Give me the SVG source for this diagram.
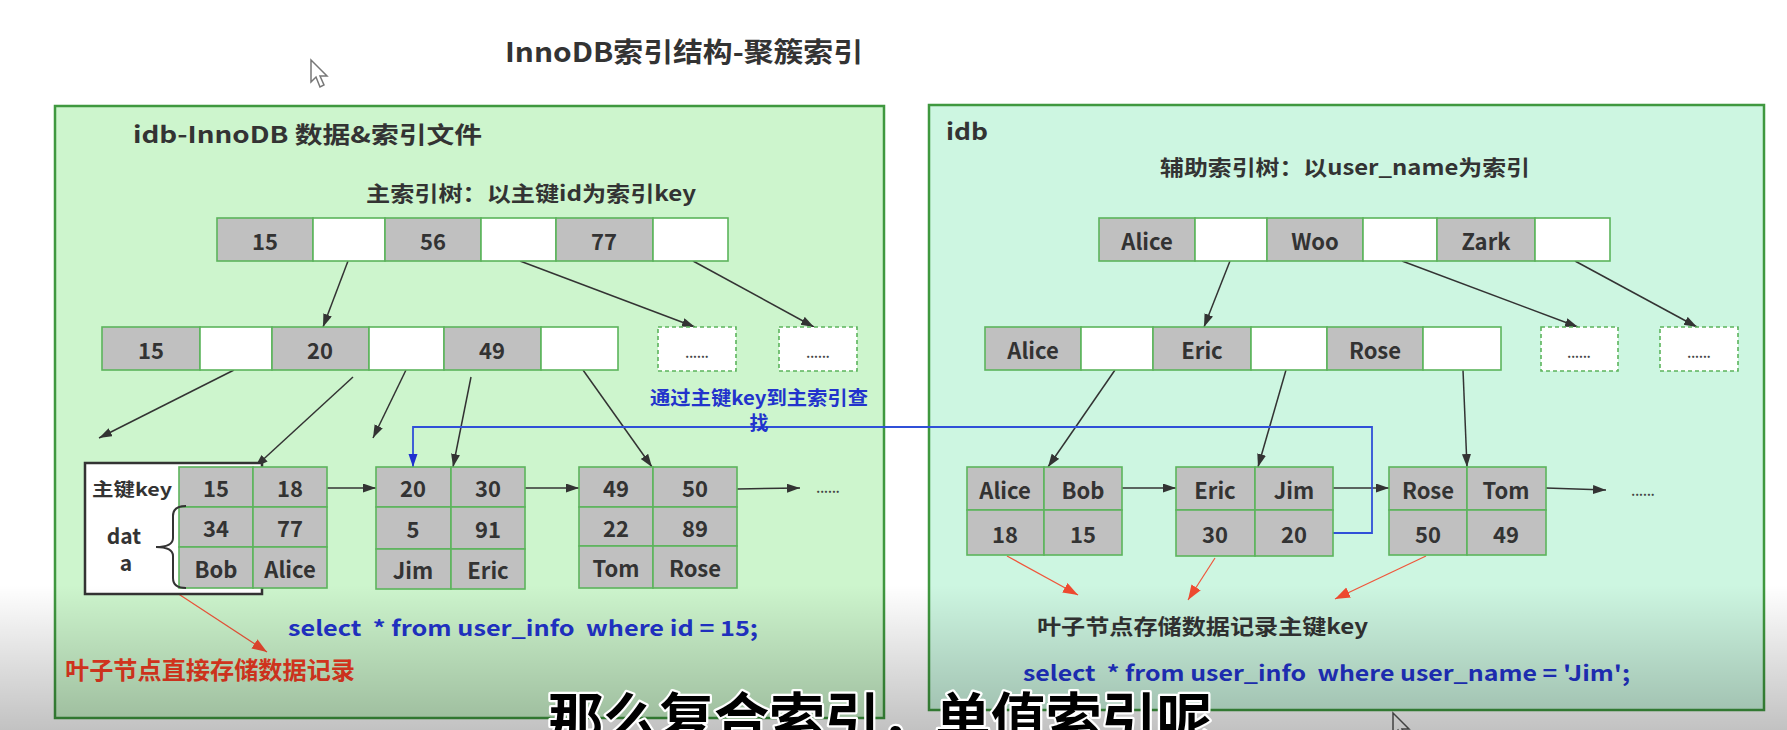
<svg xmlns="http://www.w3.org/2000/svg" width="1787" height="730" viewBox="0 0 1787 730">
<style>
.bl{fill:#cdf5cd;stroke:#3f983f;stroke-width:2.5}
.br{fill:#cdf6e1;stroke:#3f983f;stroke-width:2.5}
.g{fill:#c0c0c0;stroke:#5cb45c;stroke-width:1.6}
.w{fill:#fff;stroke:#5cb45c;stroke-width:1.6}
.d{fill:#fff;stroke:#5cb45c;stroke-width:1.6;stroke-dasharray:4 3}
text{font-family:"Noto Sans CJK SC","Noto Sans",sans-serif;font-weight:bold;dominant-baseline:central}
.t{fill:#333}
.c{fill:#333;font-size:22px;text-anchor:middle}
.dots{fill:#444;font-size:12px;text-anchor:middle}
.blue{fill:#2233cc}
.red{fill:#ee3b22}
.k{stroke:#333;stroke-width:1.5;fill:none;marker-end:url(#ak)}
.rl{stroke:#f0553a;stroke-width:1.2;fill:none;marker-end:url(#ar)}
.bll{stroke:#3050d8;stroke-width:1.8;fill:none;marker-end:url(#ab)}
</style>
<defs>
<marker id="ak" markerUnits="userSpaceOnUse" markerWidth="14" markerHeight="10" refX="13" refY="4.5" orient="auto"><path d="M0,0 L13,4.5 L0,9 z" fill="#333"/></marker>
<marker id="ar" markerUnits="userSpaceOnUse" markerWidth="16" markerHeight="12" refX="15" refY="5.5" orient="auto"><path d="M0,0 L15,5.5 L0,11 z" fill="#f04a30"/></marker>
<marker id="ab" markerUnits="userSpaceOnUse" markerWidth="14" markerHeight="10" refX="13" refY="4.5" orient="auto"><path d="M0,0 L13,4.5 L0,9 z" fill="#2030d0"/></marker>
<linearGradient id="shade" x1="0" y1="0" x2="0" y2="1"><stop offset="0" stop-color="#000" stop-opacity="0"/><stop offset="1" stop-color="#000" stop-opacity="0.24"/></linearGradient>
</defs>
<rect x="0" y="0" width="1787" height="730" fill="#fff"/>

<g id="title"><text class="t" x="505" y="50" font-size="27" textLength="358" lengthAdjust="spacingAndGlyphs">InnoDB索引结构-聚簇索引</text></g>

<g id="panel-left">
<rect class="bl" x="55" y="106" width="829" height="612"/>
<text class="t" x="133" y="133" font-size="23" textLength="349" lengthAdjust="spacingAndGlyphs">idb-InnoDB 数据&amp;索引文件</text>
<text class="t" x="366" y="192" font-size="21" textLength="330" lengthAdjust="spacingAndGlyphs">主索引树：以主键id为索引key</text>
</g>
<g id="panel-right">
<rect class="br" x="929" y="105" width="835" height="605"/>
<text class="t" x="946" y="130" font-size="23" textLength="42" lengthAdjust="spacingAndGlyphs">idb</text>
<text class="t" x="1160" y="166" font-size="21" textLength="370" lengthAdjust="spacingAndGlyphs">辅助索引树：以user_name为索引</text>
</g>

<g id="connectors">
<path class="k" d="M348,261 L323,327"/>
<path class="k" d="M520,261 L695,327"/>
<path class="k" d="M693,261 L814,327"/>
<path class="k" d="M234,370 L99,438"/>
<path class="k" d="M353,377 L255,467"/>
<path class="k" d="M406,370 L373,438"/>
<path class="k" d="M471,377 L453,467"/>
<path class="k" d="M583,370 L652,467"/>
<path class="k" d="M327,488 L376,488"/>
<path class="k" d="M525,488 L579,488"/>
<path class="k" d="M737,489 L800,488"/>
<path class="rl" d="M177,593 L267,652"/>
<path class="k" d="M1230,261 L1204,327"/>
<path class="k" d="M1402,261 L1578,327"/>
<path class="k" d="M1575,261 L1697,327"/>
<path class="k" d="M1115,370 L1048,467"/>
<path class="k" d="M1286,370 L1258,467"/>
<path class="k" d="M1463,370 L1467,467"/>
<path class="k" d="M1122,488 L1176,488"/>
<path class="k" d="M1333,488 L1389,488"/>
<path class="k" d="M1546,488 L1606,490"/>
<path class="rl" d="M1007,556 L1078,595"/>
<path class="rl" d="M1215,558 L1188,600"/>
<path class="rl" d="M1426,556 L1335,599"/>
<path class="bll" d="M1333,533 H1372 V427 H413 V467"/>
</g>

<g id="l-root">
<rect class="g" x="217" y="218" width="96" height="43"/><rect class="w" x="313" y="218" width="72" height="43"/>
<rect class="g" x="385" y="218" width="96" height="43"/><rect class="w" x="481" y="218" width="75" height="43"/>
<rect class="g" x="556" y="218" width="97" height="43"/><rect class="w" x="653" y="218" width="75" height="43"/>
<text class="c" x="265" y="240">15</text><text class="c" x="433" y="240">56</text><text class="c" x="604" y="240">77</text>
</g>
<g id="l-mid">
<rect class="g" x="102" y="327" width="98" height="43"/><rect class="w" x="200" y="327" width="72" height="43"/>
<rect class="g" x="272" y="327" width="97" height="43"/><rect class="w" x="369" y="327" width="75" height="43"/>
<rect class="g" x="444" y="327" width="97" height="43"/><rect class="w" x="541" y="327" width="77" height="43"/>
<text class="c" x="151" y="349">15</text><text class="c" x="320" y="349">20</text><text class="c" x="492" y="349">49</text>
</g>
<g id="l-more1"><rect class="d" x="658" y="327" width="78" height="44"/><text class="dots" x="697" y="352">......</text></g>
<g id="l-more2"><rect class="d" x="779" y="327" width="78" height="44"/><text class="dots" x="818" y="352">......</text></g>

<g id="l-leaf1">
<rect x="85" y="463" width="177" height="131" fill="#fff" stroke="#333" stroke-width="2.5"/>
<text class="t" x="92" y="488" font-size="18" textLength="80" lengthAdjust="spacingAndGlyphs">主键key</text>
<text class="t" x="124" y="535" font-size="21" text-anchor="middle">dat</text>
<text class="t" x="126" y="562" font-size="21" text-anchor="middle">a</text>
<rect class="g" x="179" y="467" width="74" height="40"/><rect class="g" x="253" y="467" width="74" height="40"/>
<rect class="g" x="179" y="507" width="74" height="40"/><rect class="g" x="253" y="507" width="74" height="40"/>
<rect class="g" x="179" y="547" width="74" height="41"/><rect class="g" x="253" y="547" width="74" height="41"/>
<path d="M186,506 Q173,506 173,516 L173,538 Q173,547 156,547 Q173,547 173,556 L173,578 Q173,588 186,588" fill="none" stroke="#333" stroke-width="2"/>
<text class="c" x="216" y="487">15</text><text class="c" x="290" y="487">18</text>
<text class="c" x="216" y="527">34</text><text class="c" x="290" y="527">77</text>
<text class="c" x="216" y="568">Bob</text><text class="c" x="290" y="568">Alice</text>
</g>
<g id="l-leaf2">
<rect class="g" x="376" y="467" width="75" height="40"/><rect class="g" x="451" y="467" width="74" height="40"/>
<rect class="g" x="376" y="507" width="75" height="42"/><rect class="g" x="451" y="507" width="74" height="42"/>
<rect class="g" x="376" y="549" width="75" height="40"/><rect class="g" x="451" y="549" width="74" height="40"/>
<text class="c" x="413" y="487">20</text><text class="c" x="488" y="487">30</text>
<text class="c" x="413" y="528">5</text><text class="c" x="488" y="528">91</text>
<text class="c" x="413" y="569">Jim</text><text class="c" x="488" y="569">Eric</text>
</g>
<g id="l-leaf3">
<rect class="g" x="579" y="467" width="74" height="40"/><rect class="g" x="653" y="467" width="84" height="40"/>
<rect class="g" x="579" y="507" width="74" height="39"/><rect class="g" x="653" y="507" width="84" height="39"/>
<rect class="g" x="579" y="546" width="74" height="42"/><rect class="g" x="653" y="546" width="84" height="42"/>
<text class="c" x="616" y="487">49</text><text class="c" x="695" y="487">50</text>
<text class="c" x="616" y="527">22</text><text class="c" x="695" y="527">89</text>
<text class="c" x="616" y="567">Tom</text><text class="c" x="695" y="567">Rose</text>
</g>
<g id="l-leaf-more"><text class="dots" x="828" y="487">......</text></g>

<g id="r-root">
<rect class="g" x="1099" y="218" width="96" height="43"/><rect class="w" x="1195" y="218" width="72" height="43"/>
<rect class="g" x="1267" y="218" width="96" height="43"/><rect class="w" x="1363" y="218" width="74" height="43"/>
<rect class="g" x="1437" y="218" width="98" height="43"/><rect class="w" x="1535" y="218" width="75" height="43"/>
<text class="c" x="1147" y="240">Alice</text><text class="c" x="1315" y="240">Woo</text><text class="c" x="1486" y="240">Zark</text>
</g>
<g id="r-mid">
<rect class="g" x="985" y="327" width="96" height="43"/><rect class="w" x="1081" y="327" width="72" height="43"/>
<rect class="g" x="1153" y="327" width="98" height="43"/><rect class="w" x="1251" y="327" width="76" height="43"/>
<rect class="g" x="1327" y="327" width="96" height="43"/><rect class="w" x="1423" y="327" width="78" height="43"/>
<text class="c" x="1033" y="349">Alice</text><text class="c" x="1202" y="349">Eric</text><text class="c" x="1375" y="349">Rose</text>
</g>
<g id="r-more1"><rect class="d" x="1541" y="327" width="77" height="44"/><text class="dots" x="1579" y="352">......</text></g>
<g id="r-more2"><rect class="d" x="1660" y="327" width="78" height="44"/><text class="dots" x="1699" y="352">......</text></g>

<g id="r-leaf1">
<rect class="g" x="967" y="467" width="77" height="43"/><rect class="g" x="1044" y="467" width="78" height="43"/>
<rect class="g" x="967" y="510" width="77" height="45"/><rect class="g" x="1044" y="510" width="78" height="45"/>
<text class="c" x="1005" y="489">Alice</text><text class="c" x="1083" y="489">Bob</text>
<text class="c" x="1005" y="533">18</text><text class="c" x="1083" y="533">15</text>
</g>
<g id="r-leaf2">
<rect class="g" x="1176" y="467" width="79" height="43"/><rect class="g" x="1255" y="467" width="78" height="43"/>
<rect class="g" x="1176" y="510" width="79" height="46"/><rect class="g" x="1255" y="510" width="78" height="46"/>
<text class="c" x="1215" y="489">Eric</text><text class="c" x="1294" y="489">Jim</text>
<text class="c" x="1215" y="533">30</text><text class="c" x="1294" y="533">20</text>
</g>
<g id="r-leaf3">
<rect class="g" x="1389" y="467" width="78" height="43"/><rect class="g" x="1467" y="467" width="79" height="43"/>
<rect class="g" x="1389" y="510" width="78" height="45"/><rect class="g" x="1467" y="510" width="79" height="45"/>
<text class="c" x="1428" y="489">Rose</text><text class="c" x="1506" y="489">Tom</text>
<text class="c" x="1428" y="533">50</text><text class="c" x="1506" y="533">49</text>
</g>
<g id="r-leaf-more"><text class="dots" x="1643" y="490">......</text></g>

<g id="labels">
<text class="blue" x="650" y="396" font-size="19" textLength="218" lengthAdjust="spacingAndGlyphs">通过主键key到主索引查</text>
<text class="blue" x="759" y="421" font-size="19" text-anchor="middle">找</text>
<text class="blue" x="288" y="627" font-size="21" textLength="470" lengthAdjust="spacingAndGlyphs" xml:space="preserve">select  * from user_info  where id = 15;</text>
<text class="red" x="65" y="668" font-size="24" textLength="290" lengthAdjust="spacingAndGlyphs">叶子节点直接存储数据记录</text>
<text class="t" x="1037" y="625" font-size="21" textLength="331" lengthAdjust="spacingAndGlyphs">叶子节点存储数据记录主键key</text>
<text class="blue" x="1023" y="672" font-size="21" textLength="607" lengthAdjust="spacingAndGlyphs" xml:space="preserve">select  * from user_info  where user_name = 'Jim';</text>
</g>

<g id="cursors">
<path d="M311,60 L311,82 L316,77 L320,87 L324,85 L320,76 L327,76 Z" fill="#fff" stroke="#777" stroke-width="1.5"/>
<path d="M1393,713 L1393,735 L1398,730 L1402,740 L1406,738 L1402,729 L1409,729 Z" fill="#fff" stroke="#555" stroke-width="1.5"/>
</g>

<rect x="0" y="585" width="1787" height="145" fill="url(#shade)"/>

<g id="subtitle">
<text x="548" y="714" font-size="56" font-weight="900" fill="#000" stroke="#fff" stroke-width="4.5" stroke-linejoin="round" paint-order="stroke" textLength="664" lengthAdjust="spacingAndGlyphs">那么复合索引，单值索引呢</text>
</g>
</svg>
